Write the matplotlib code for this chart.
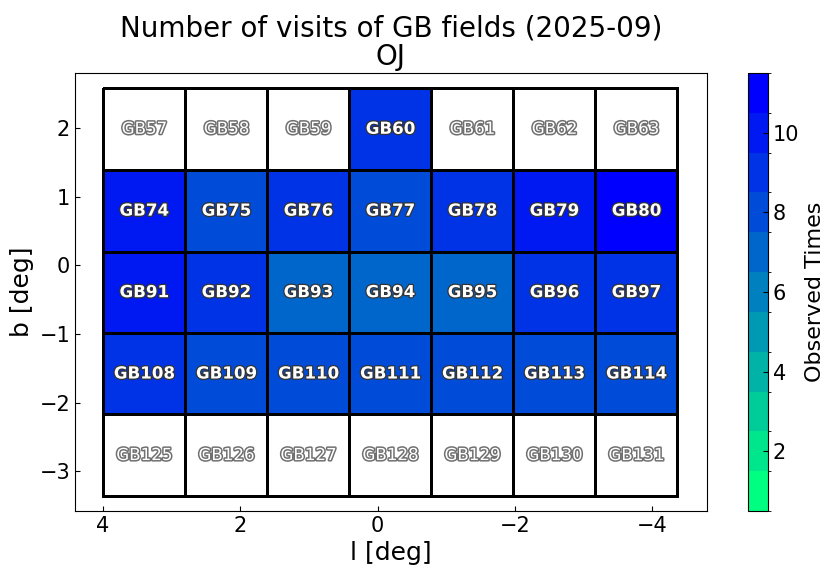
import numpy as np
import matplotlib
matplotlib.use("Agg")
import matplotlib.pyplot as plt
import matplotlib.patheffects as pe
from matplotlib.colors import BoundaryNorm

# field grid (cell edges in deg)
l_edges = [4.0, 2.80, 1.605, 0.41, -0.785, -1.98, -3.175, -4.37]
b_edges = [2.585, 1.39, 0.20, -0.985, -2.17, -3.36]

field_ids = [
    [57, 58, 59, 60, 61, 62, 63],
    [74, 75, 76, 77, 78, 79, 80],
    [91, 92, 93, 94, 95, 96, 97],
    [108, 109, 110, 111, 112, 113, 114],
    [125, 126, 127, 128, 129, 130, 131],
]
# number of visits (0 = not observed)
visits = [
    [0, 0, 0, 9, 0, 0, 0],
    [10, 8, 9, 8, 9, 10, 11],
    [10, 9, 7, 7, 7, 9, 9],
    [9, 8, 8, 8, 8, 8, 8],
    [0, 0, 0, 0, 0, 0, 0],
]

cb_ticks = [2, 4, 6, 8, 10]

plt.rcParams["font.family"] = "DejaVu Sans"

fig = plt.figure(figsize=(8.35, 5.75), dpi=100)
ax = fig.add_axes([0.0898, 0.1113, 0.7569, 0.7617])
cax = fig.add_axes([0.8958, 0.1113, 0.024, 0.7617])

bounds = np.arange(0.5, 12.5, 1)
cmap = plt.get_cmap("winter_r", len(bounds) - 1).copy()
cmap.set_under("white")
norm = BoundaryNorm(bounds, cmap.N)

vals = np.array(visits, dtype=float)
mesh = ax.pcolormesh(l_edges, b_edges, vals, cmap=cmap, norm=norm,
                     edgecolors="black", linewidth=2)

lc = [(l_edges[i] + l_edges[i + 1]) / 2 for i in range(len(l_edges) - 1)]
bc = [(b_edges[j] + b_edges[j + 1]) / 2 for j in range(len(b_edges) - 1)]
for j, row in enumerate(field_ids):
    for i, fid in enumerate(row):
        if visits[j][i] > 0:
            ax.text(lc[i], bc[j], "GB%d" % fid, ha="center", va="center",
                    fontsize=12, fontweight="bold", color="white",
                    path_effects=[pe.withStroke(linewidth=1.8, foreground="#333333")])
        else:
            ax.text(lc[i], bc[j], "GB%d" % fid, ha="center", va="center",
                    fontsize=12, color="white",
                    path_effects=[pe.withStroke(linewidth=2.2, foreground="#707070")])

ax.set_xlim(4.41, -4.80)
ax.set_ylim(-3.58, 2.80)
ax.set_xticks([4, 2, 0, -2, -4])
ax.set_yticks([2, 1, 0, -1, -2, -3])
ax.tick_params(direction="in", labelsize=15)
ax.set_xlabel("l [deg]", fontsize=18)
ax.set_ylabel("b [deg]", fontsize=18)
ax.set_title("Number of visits of GB fields (2025-09)\nOJ", fontsize=20, linespacing=1.0)

cb = fig.colorbar(mesh, cax=cax)
cb.set_ticks(cb_ticks)
cb.ax.tick_params(direction="in", labelsize=15)
cb.set_label("Observed Times", fontsize=16)

fig.savefig("out.png", dpi=100)
